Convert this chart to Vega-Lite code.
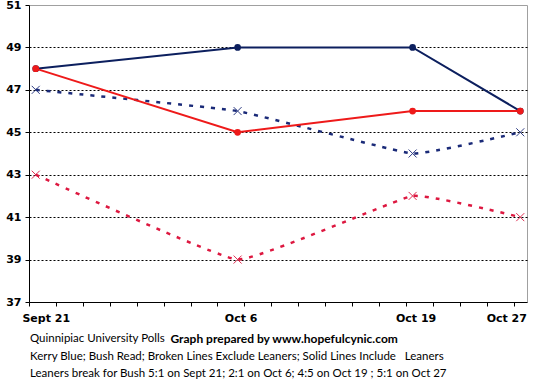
{
  "$schema": "https://vega.github.io/schema/vega-lite/v6.json",
  "width": 498,
  "height": 297,
  "autosize": {"type": "none"},
  "padding": {"left": 29, "top": 5, "right": 7, "bottom": 88},
  "background": "white",
  "config": {"view": {"stroke": "#a0a0a0", "strokeWidth": 1}, "font": "Lato"},
  "title": {
    "text": ["Quinnipiac University Polls", "Kerry Blue; Bush Read; Broken Lines Exclude Leaners; Solid Lines Include \u00a0 Leaners", "Leaners break for Bush 5:1 on Sept 21; 2:1 on Oct 6; 4:5 on Oct 19 ; 5:1 on Oct 27"],
    "orient": "bottom",
    "anchor": "start",
    "frame": "group",
    "font": "Lato",
    "fontSize": 11.5,
    "fontWeight": "normal",
    "lineHeight": 17.5,
    "color": "black",
    "offset": -11,
    "dx": 1
  },
  "data": {
    "values": [
      {"series": "Kerry incl", "kind": "solid", "date": "2004-09-21T12:00:00", "value": 48},
      {"series": "Kerry incl", "kind": "solid", "date": "2004-10-06T12:00:00", "value": 49},
      {"series": "Kerry incl", "kind": "solid", "date": "2004-10-19T12:00:00", "value": 49},
      {"series": "Kerry incl", "kind": "solid", "date": "2004-10-27T12:00:00", "value": 46},
      {"series": "Bush incl", "kind": "solid", "date": "2004-09-21T12:00:00", "value": 48},
      {"series": "Bush incl", "kind": "solid", "date": "2004-10-06T12:00:00", "value": 45},
      {"series": "Bush incl", "kind": "solid", "date": "2004-10-19T12:00:00", "value": 46},
      {"series": "Bush incl", "kind": "solid", "date": "2004-10-27T12:00:00", "value": 46},
      {"series": "Kerry excl", "kind": "dashed", "date": "2004-09-21T12:00:00", "value": 47},
      {"series": "Kerry excl", "kind": "dashed", "date": "2004-10-06T12:00:00", "value": 46},
      {"series": "Kerry excl", "kind": "dashed", "date": "2004-10-19T12:00:00", "value": 44},
      {"series": "Kerry excl", "kind": "dashed", "date": "2004-10-27T12:00:00", "value": 45},
      {"series": "Bush excl", "kind": "dashed", "date": "2004-09-21T12:00:00", "value": 43},
      {"series": "Bush excl", "kind": "dashed", "date": "2004-10-06T12:00:00", "value": 39},
      {"series": "Bush excl", "kind": "dashed", "date": "2004-10-19T12:00:00", "value": 42},
      {"series": "Bush excl", "kind": "dashed", "date": "2004-10-27T12:00:00", "value": 41}
    ]
  },
  "encoding": {
    "x": {
      "field": "date",
      "type": "temporal",
      "scale": {"domain": [{"year": 2004, "month": 9, "date": 21}, {"year": 2004, "month": 10, "date": 28}]},
      "axis": {
        "values": [
          {"year": 2004, "month": 9, "date": 21}, {"year": 2004, "month": 9, "date": 23}, {"year": 2004, "month": 9, "date": 25},
          {"year": 2004, "month": 9, "date": 27}, {"year": 2004, "month": 9, "date": 29}, {"year": 2004, "month": 10, "date": 1},
          {"year": 2004, "month": 10, "date": 3}, {"year": 2004, "month": 10, "date": 5}, {"year": 2004, "month": 10, "date": 7},
          {"year": 2004, "month": 10, "date": 9}, {"year": 2004, "month": 10, "date": 11}, {"year": 2004, "month": 10, "date": 13},
          {"year": 2004, "month": 10, "date": 15}, {"year": 2004, "month": 10, "date": 17}, {"year": 2004, "month": 10, "date": 19},
          {"year": 2004, "month": 10, "date": 21}, {"year": 2004, "month": 10, "date": 23}, {"year": 2004, "month": 10, "date": 25},
          {"year": 2004, "month": 10, "date": 27},
          {"year": 2004, "month": 9, "date": 21, "hours": 12}, {"year": 2004, "month": 10, "date": 6, "hours": 12},
          {"year": 2004, "month": 10, "date": 19, "hours": 12}, {"year": 2004, "month": 10, "date": 27, "hours": 12}
        ],
        "labelExpr": "hours(datum.value) == 12 ? (month(datum.value) == 8 ? 'Sept 21' : timeFormat(datum.value, '%b %-d')) : ''",
        "tickOpacity": {"condition": {"test": "hours(datum.value) == 12", "value": 0}, "value": 1},
        "labelOffset": {"condition": [{"test": "month(datum.value) == 8", "value": 10}, {"test": "date(datum.value) == 27", "value": -14}], "value": 3},
        "tickSize": 4,
        "tickColor": "black",
        "domainColor": "black",
        "labelFont": "DejaVu Sans",
        "labelFontWeight": "bold",
        "labelFontSize": 11,
        "labelColor": "black",
        "labelPadding": 6,
        "labelOverlap": false,
        "labelAlign": "center",
        "labelBound": false,
        "labelFlush": false,
        "grid": false,
        "title": "Graph prepared by www.hopefulcynic.com",
        "titleFont": "Lato",
        "titleFontWeight": "bold",
        "titleFontSize": 12,
        "titleColor": "black",
        "titleX": 141,
        "titleY": 36,
        "titleAlign": "left",
        "titleBaseline": "middle",
        "titleAnchor": "start"
      }
    },
    "y": {
      "field": "value",
      "type": "quantitative",
      "scale": {"domain": [37, 51], "nice": false, "zero": false},
      "axis": {
        "values": [37, 39, 41, 43, 45, 47, 49, 51],
        "title": null,
        "grid": true,
        "gridColor": "black",
        "gridDash": [2, 2],
        "gridWidth": 1,
        "gridOpacity": {"condition": {"test": "datum.value == 37 || datum.value == 51", "value": 0}, "value": 1},
        "tickSize": 4,
        "tickColor": "black",
        "domainColor": "black",
        "labelFont": "DejaVu Sans",
        "labelFontWeight": "bold",
        "labelFontSize": 11,
        "labelColor": "black",
        "labelPadding": 4
      }
    },
    "color": {
      "field": "series",
      "type": "nominal",
      "legend": null,
      "scale": {
        "domain": ["Kerry incl", "Bush incl", "Kerry excl", "Bush excl"],
        "range": ["#0c1f5e", "#ee1a1a", "#1a2a78", "#dd1840"]
      }
    }
  },
  "layer": [
    {
      "transform": [{"filter": "datum.kind == 'dashed'"}],
      "mark": {"type": "line", "interpolate": "cardinal", "tension": 0.7, "strokeDash": [4, 7], "strokeWidth": 2.5}
    },
    {
      "transform": [{"filter": "datum.kind == 'dashed'"}],
      "mark": {"type": "point", "shape": "M-1,-1L1,1M-1,1L1,-1", "filled": false, "size": 64, "strokeWidth": 1, "opacity": 0.9}
    },
    {
      "transform": [{"filter": "datum.kind == 'solid'"}],
      "mark": {"type": "line", "strokeWidth": 2}
    },
    {
      "transform": [{"filter": "datum.kind == 'solid'"}],
      "mark": {"type": "point", "shape": "circle", "filled": true, "size": 45, "opacity": 1}
    }
  ]
}
